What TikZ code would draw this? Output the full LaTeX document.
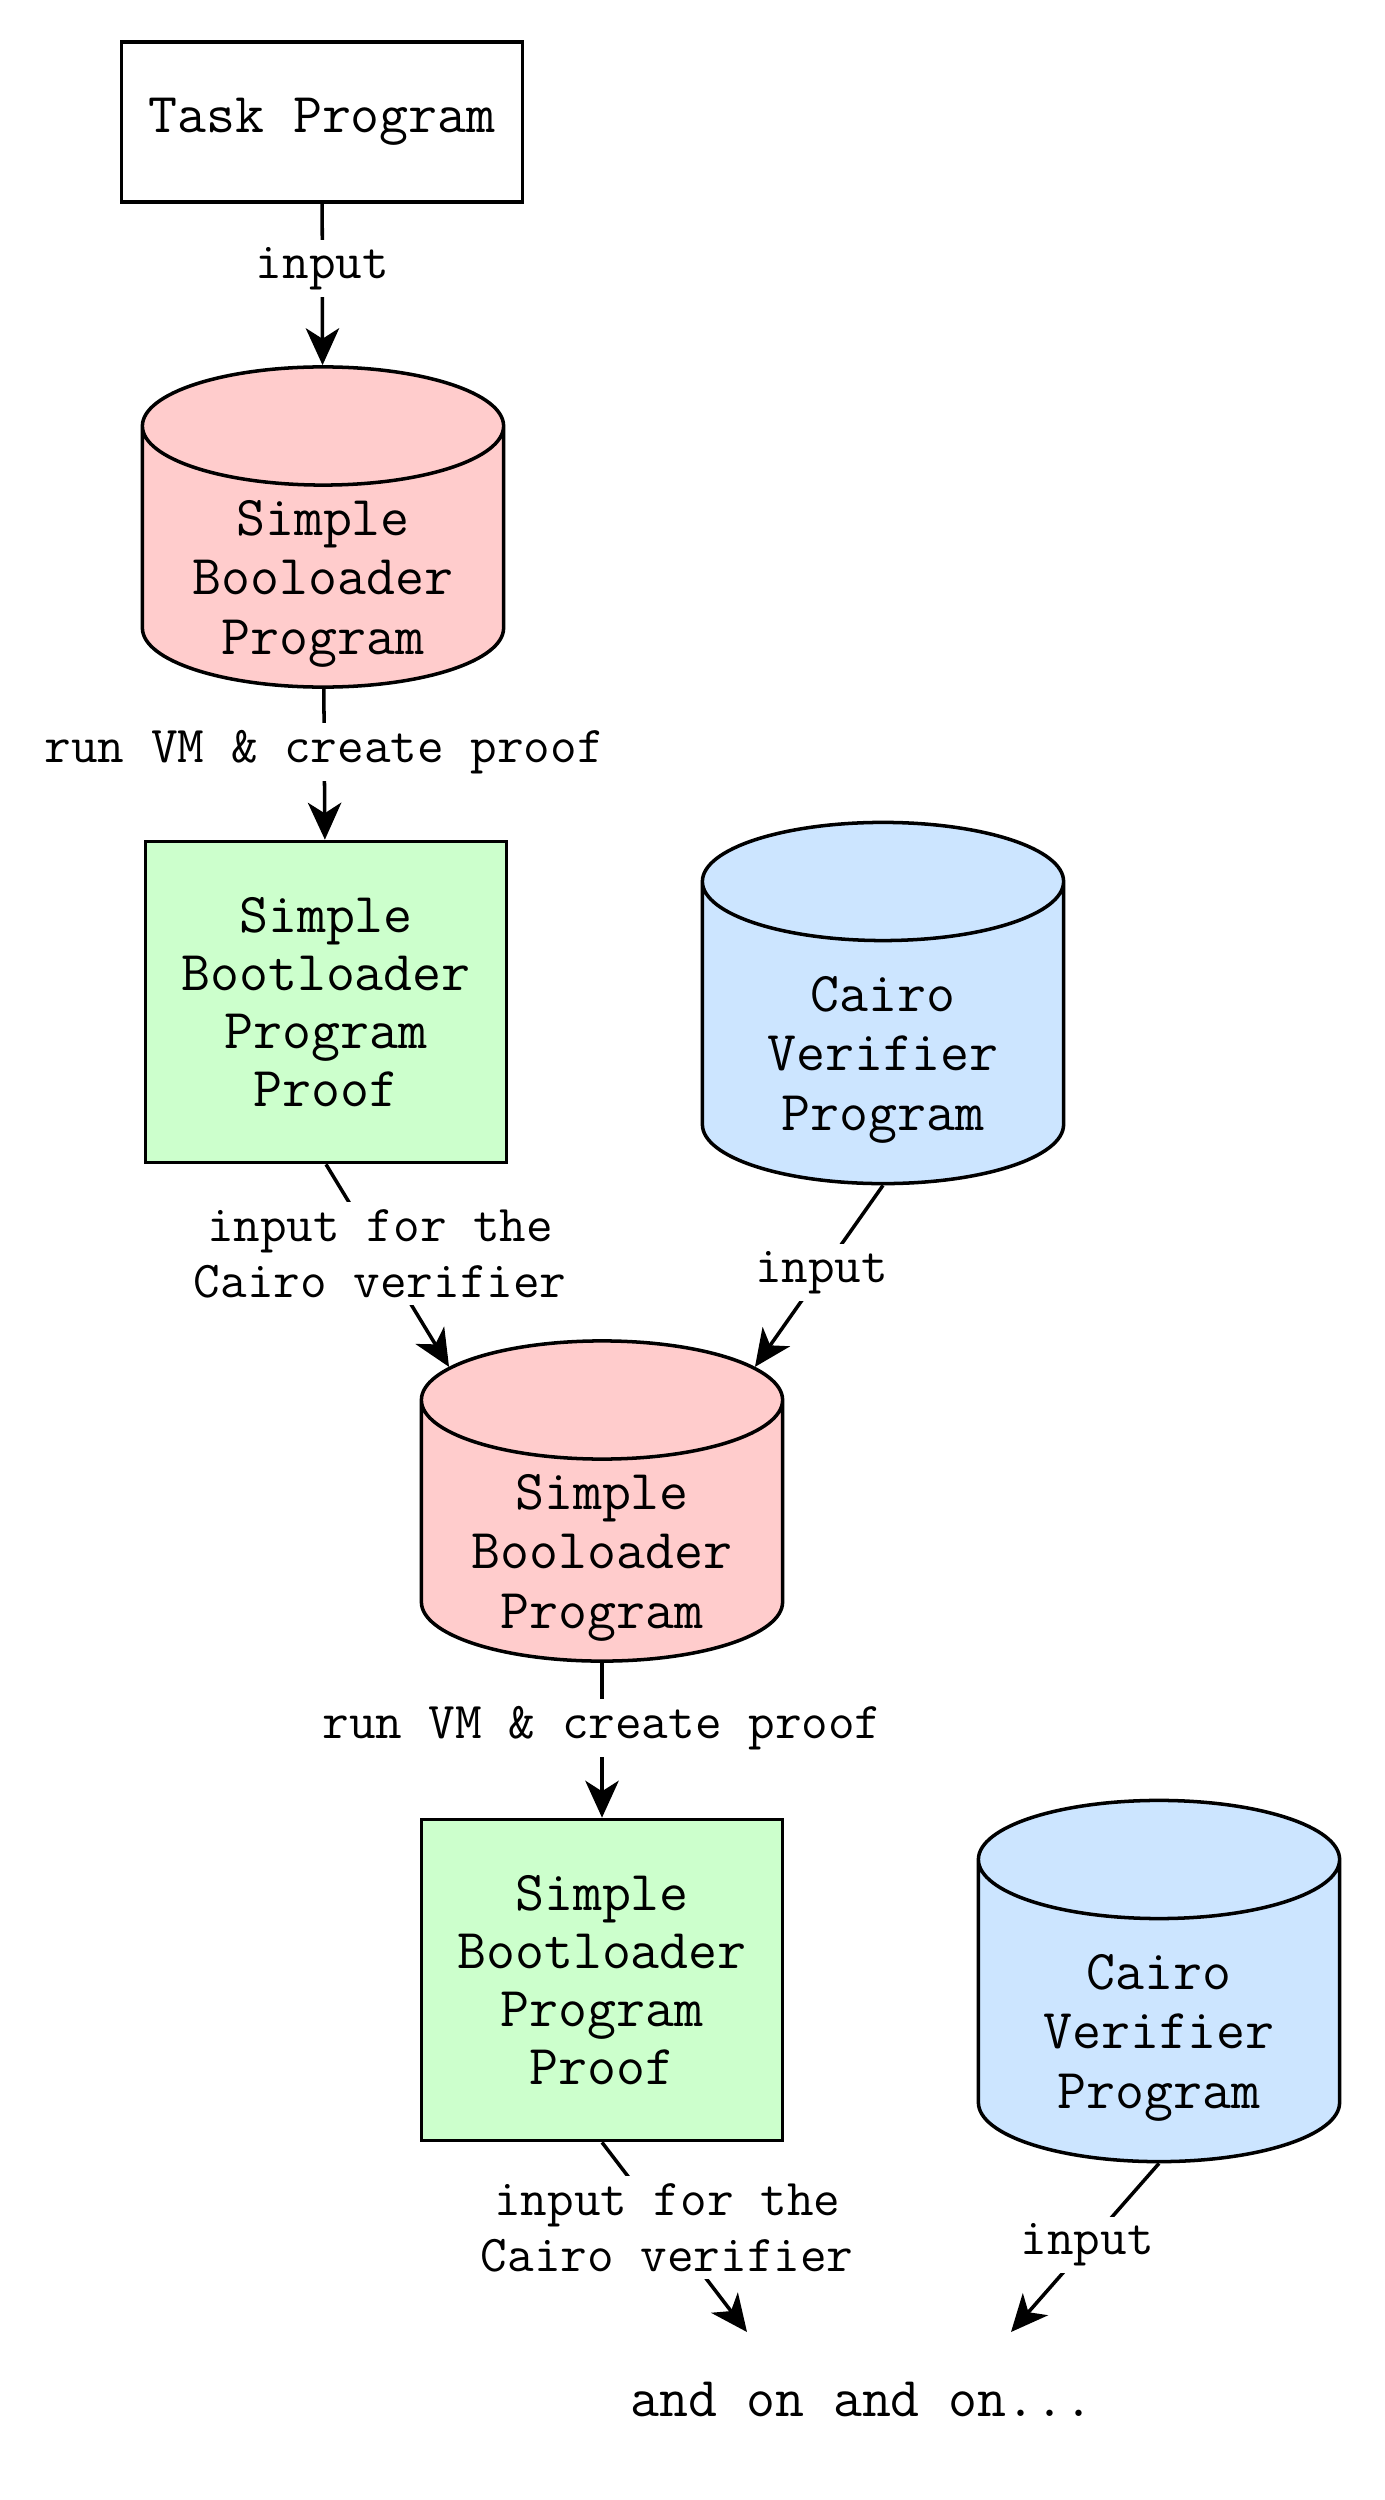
\documentclass[tikz,border=0pt]{standalone}
\usepackage{fontspec}
\usetikzlibrary{shapes.geometric,arrows.meta,positioning}

\definecolor{bootred}{HTML}{FFCCCC}
\definecolor{proofgreen}{HTML}{CCFFCC}
\definecolor{verblue}{HTML}{CCE5FF}

\begin{document}
\begin{tikzpicture}[x=0.01cm,y=-0.01cm]

	% Define styles
	\tikzstyle{task} = [
	rectangle, minimum width=4.01cm, minimum height=1.6cm,
	draw=black, line width=1pt, font=\ttfamily\fontsize{16}{16.5}\selectfont]
	\tikzstyle{proof} = [
	rectangle, minimum width=3.61cm, minimum height=3.21cm,
	text centered, draw=black, line width=1pt, fill=proofgreen,
	align=center, font=\ttfamily\fontsize{16}{16.5}\selectfont]
	\tikzstyle{db} = [
	cylinder, shape border rotate=90, inner sep=4pt, aspect=4.2,
	anchor=shape center, minimum width=3.61cm, draw=black, line width=1pt]
	\tikzstyle{boot} = [db, minimum height=3.2cm, fill=bootred]
	\tikzstyle{verifier} = [db, minimum height=3.61cm, fill=verblue]
	\tikzstyle{cyltext} = [
	align=center, yshift=-0.15cm, font=\ttfamily\fontsize{16}{17}\selectfont]
	\tikzstyle{lbl} = [
	fill=white, inner sep=2pt, align=center,
	font=\ttfamily\fontsize{14.7}{15.9}\selectfont]
	\tikzstyle{arrow} = [line width=1pt,-{Stealth[length=10.5pt,width=9.5pt,inset=3pt]}]

	\useasboundingbox (0,0) rectangle (1384,2500);

	% Nodes
	\node (task) [task] at (322,122) {Task Program};

	\node (boot1) [boot, label={[cyltext]center:Simple\\Booloader\\Program}] at (323,527) {};

	\node (proof1) [proof] at (326,1002) {
		Simple\\Bootloader\\Program\\Proof
	};

	\node (ver1) [verifier, label={[cyltext]center:Cairo\\Verifier\\Program}] at (883,1003) {};

	\node (boot2) [boot, label={[cyltext]center:Simple\\Booloader\\Program}] at (602,1501) {};

	\node (proof2) [proof] at (602,1980) {
		Simple\\Bootloader\\Program\\Proof
	};

	\node (ver2) [verifier, label={[cyltext]center:Cairo\\Verifier\\Program}] at (1159,1981) {};

	\node (more) [font=\ttfamily\fontsize{16}{16.5}\selectfont] at (862,2399) {and on and on...};

	\coordinate (end1) at (747,2332);
	\coordinate (end2) at (1011,2332);

	% Arrows
	\draw [arrow] (task) -- node[lbl, pos=0.4] {input} (boot1);
	\draw [arrow] (boot1) -- node[lbl, pos=0.42] {run VM \& create proof} (proof1);
	\draw [arrow] (proof1.south) -- node[lbl, pos=0.44] {input for the\\Cairo verifier} (boot2.131);
	\draw [arrow] (ver1.south) -- node[lbl, pos=0.48] {input} (boot2.49);
	\draw [arrow] (boot2) -- node[lbl, pos=0.42] {run VM \& create proof} (proof2);
	\draw [arrow] (proof2.south) -- node[lbl, pos=0.45] {input for the\\Cairo verifier} (end1);
	\draw [arrow] (ver2.south) -- node[lbl, pos=0.485] {input} (end2);
\end{tikzpicture}
\end{document}
